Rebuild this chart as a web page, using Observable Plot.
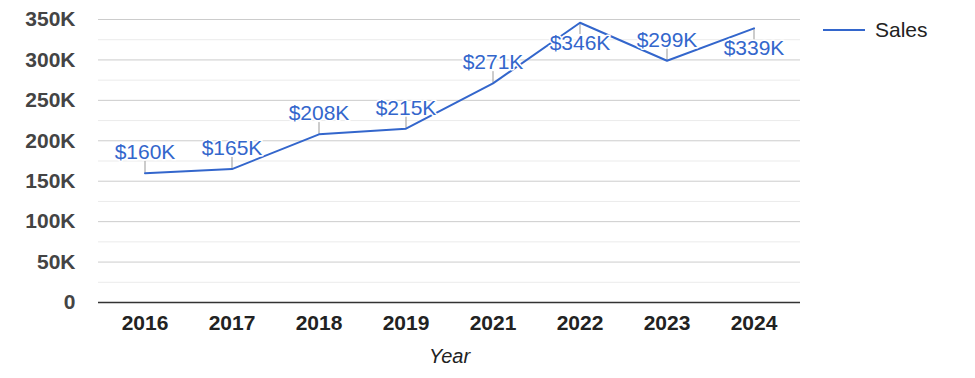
<!DOCTYPE html>
<html>
<head>
<meta charset="utf-8">
<script src="https://cdn.jsdelivr.net/npm/d3@7"></script>
<script src="https://cdn.jsdelivr.net/npm/@observablehq/plot@0.6"></script>
<style>
  html, body { margin: 0; padding: 0; background: #fff; }
  body { font-family: "Liberation Sans", Arial, sans-serif; }
  #wrap { display: flex; align-items: flex-start; width: 975px; height: 378px; }
  #legend { display: flex; align-items: center; margin-top: 18px; margin-left: 13px; font-size: 21px; color: #222; }
  #legend .sw { width: 42px; height: 2px; background: #3366cc; margin-right: 10px; }
</style>
</head>
<body>
<div id="wrap"><div id="chart"></div><div id="legend"><span class="sw"></span><span>Sales</span></div></div>
<script>
const years = ["2016", "2017", "2018", "2019", "2021", "2022", "2023", "2024"];
const sales = [160, 165, 208, 215, 271, 346, 299, 339]; // thousands of dollars
const yTicks = [0, 50, 100, 150, 200, 250, 300, 350];
const yMinor = [25, 75, 125, 175, 225, 275, 325];

const data = years.map((y, i) => ({year: y, sales: sales[i], below: sales[i] > 330}));
const above = data.filter(d => !d.below);
const below = data.filter(d => d.below);
const lead = 14.5;

const chart = Plot.plot({
  width: 810,
  height: 378,
  marginLeft: 98,
  marginRight: 10,
  marginTop: 19,
  marginBottom: 76,
  style: {fontFamily: "'Liberation Sans', Arial, sans-serif", background: "#fff"},
  x: {type: "band", domain: years, label: null, padding: 0},
  y: {domain: [0, 350], label: null},
  marks: [
    Plot.ruleY(yMinor, {stroke: "#ebebeb", strokeWidth: 1}),
    Plot.ruleY(yTicks.filter(d => d > 0), {stroke: "#cccccc", strokeWidth: 1}),
    Plot.axisY(yTicks, {tickSize: 0, tickPadding: 23, tickFormat: d => d ? d + "K" : "0", fontSize: 21, fontWeight: "bold", fill: "#444", label: null}),
    Plot.axisX({tickSize: 0, tickPadding: 13, fontSize: 21, fontWeight: "bold", fill: "#222", label: null}),
    Plot.text(["Year"], {frameAnchor: "bottom", lineAnchor: "middle", dy: 54, fontSize: 20, fontStyle: "italic", fill: "#222"}),
    Plot.ruleY([0], {stroke: "#333", strokeWidth: 1.5}),
    Plot.ruleX(above, {x: "year", y1: "sales", y2: d => d.sales + lead, stroke: "#999", strokeWidth: 1}),
    Plot.ruleX(below, {x: "year", y1: "sales", y2: d => d.sales - lead, stroke: "#999", strokeWidth: 1}),
    Plot.line(data, {x: "year", y: "sales", stroke: "#3366cc", strokeWidth: 2}),
    Plot.text(above, {x: "year", y: "sales", text: d => "$" + d.sales + "K", lineAnchor: "bottom", dy: -14, fontSize: 21, fill: "#3366cc", stroke: "white", strokeWidth: 3}),
    Plot.text(below, {x: "year", y: "sales", text: d => "$" + d.sales + "K", lineAnchor: "top", dy: 12, fontSize: 21, fill: "#3366cc", stroke: "white", strokeWidth: 3})
  ]
});
document.getElementById("chart").appendChild(chart);
</script>
</body>
</html>
